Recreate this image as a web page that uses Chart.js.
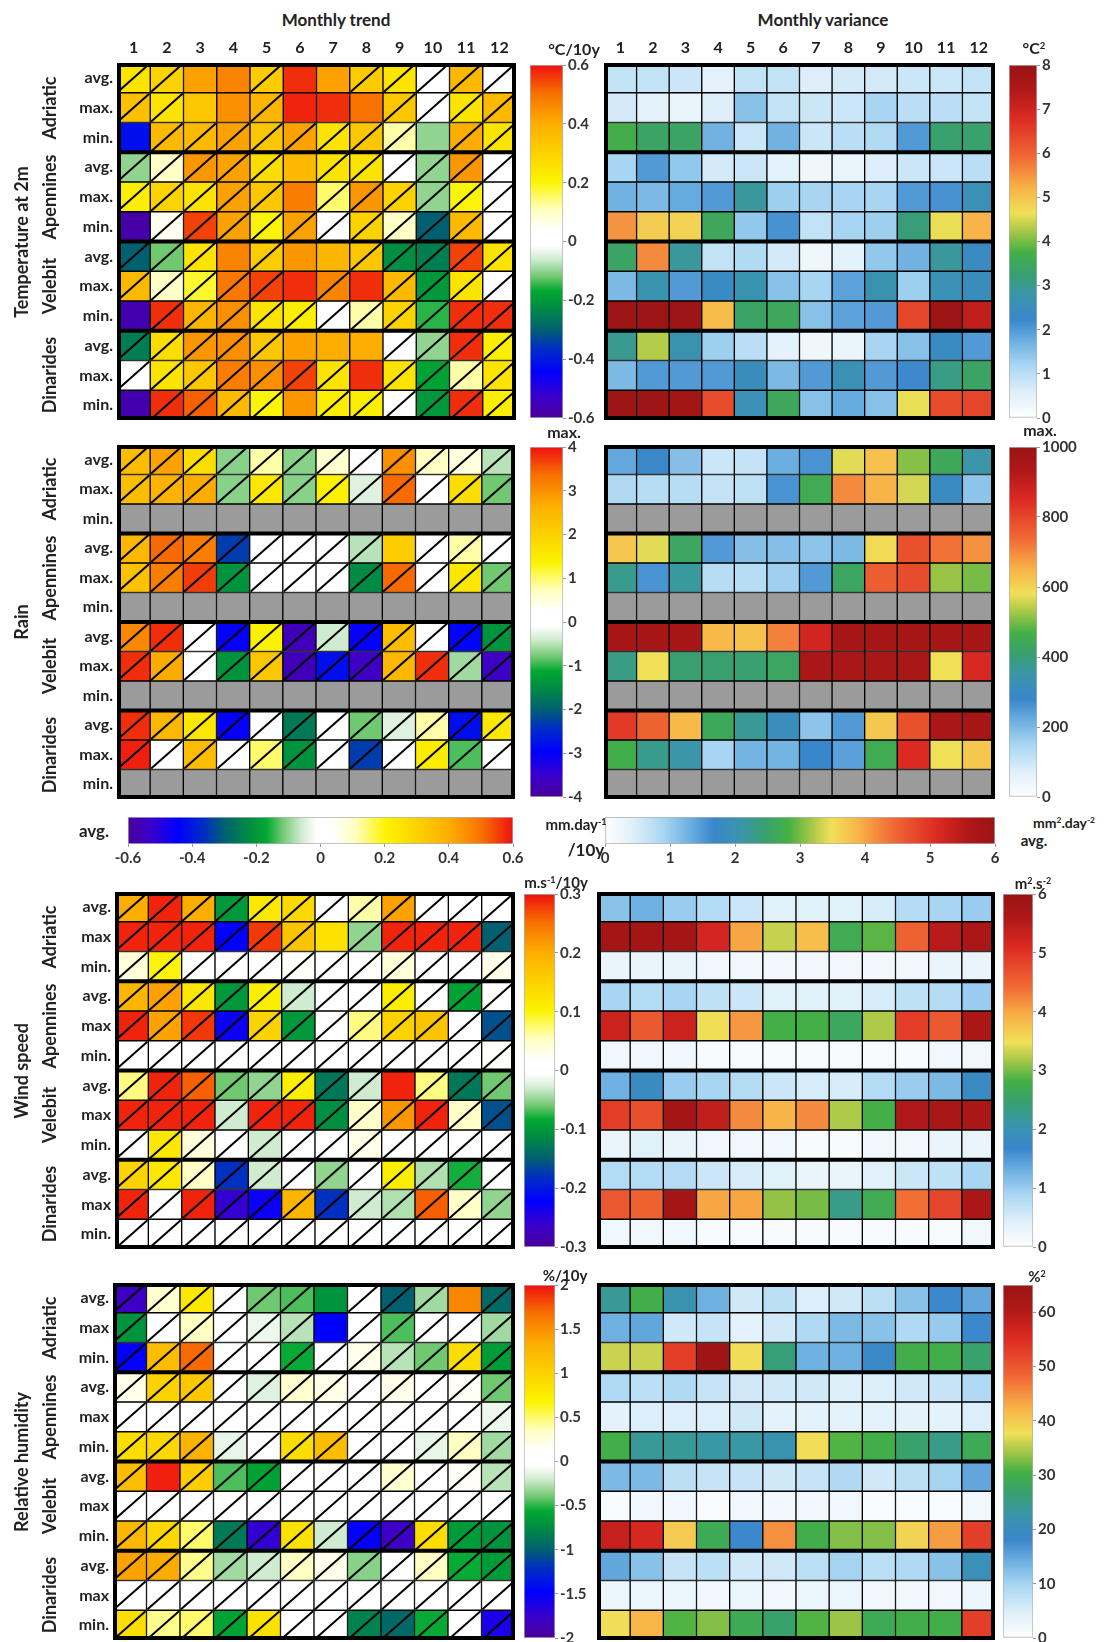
<!DOCTYPE html>
<html><head><meta charset="utf-8">
<script src="https://cdn.jsdelivr.net/npm/chart.js@4.4.1/dist/chart.umd.min.js"></script>
<style>
body{margin:0;width:1104px;height:1642px;overflow:hidden;background:#fff;font-family:Lato,"Open Sans",sans-serif;position:relative;}
.box{position:absolute;}
.t{position:absolute;font-weight:700;color:#222;white-space:nowrap;line-height:1;transform:translate(-50%,-50%);}
.t sup{font-size:60%;vertical-align:0.55em;}
.rot{transform:translate(-50%,-50%) rotate(-90deg);}
</style></head><body>
<script>
// ---------- DATA ----------
const months = ['1','2','3','4','5','6','7','8','9','10','11','12'];
const regions = ['Adriatic','Apennines','Velebit','Dinarides'];
const rowLabelsA = ['avg.','max.','min.','avg.','max.','min.','avg.','max.','min.','avg.','max.','min.'];
const rowLabelsB = ['avg.','max','min.','avg.','max','min.','avg.','max','min.','avg.','max','min.'];
const variables = ['Temperature at 2m','Rain','Wind speed','Relative humidity'];
const N = null;
const nullRow = [N,N,N,N,N,N,N,N,N,N,N,N];

// Temperature at 2m — trend (°C/10y)
const tempTrend = [
 [0.25,0.30,0.42,0.47,0.32,0.57,0.42,0.32,0.25,0.00,0.37,0.02],
 [0.35,0.25,0.33,0.45,0.38,0.58,0.57,0.50,0.33,0.00,0.25,0.37],
 [-0.42,0.37,0.37,0.42,0.33,0.42,0.25,0.33,0.12,-0.10,0.40,0.25],
 [-0.10,0.10,0.44,0.42,0.27,0.37,0.25,0.25,0.00,-0.10,0.44,0.00],
 [0.22,0.30,0.25,0.42,0.33,0.48,0.15,0.44,0.30,-0.10,0.20,0.00],
 [-0.58,0.05,0.55,0.42,0.20,0.42,0.02,0.30,0.10,-0.30,0.37,0.00],
 [-0.30,-0.12,0.25,0.47,0.32,0.44,0.38,0.33,-0.22,-0.25,0.55,0.25],
 [0.37,0.10,0.18,0.49,0.55,0.57,0.47,0.57,0.37,-0.20,0.25,0.00],
 [-0.57,0.57,0.38,0.45,0.25,0.22,0.00,0.12,0.30,-0.15,0.57,0.57],
 [-0.25,0.27,0.44,0.45,0.33,0.42,0.40,0.40,0.00,-0.10,0.57,0.22],
 [0.00,0.25,0.33,0.48,0.45,0.55,0.25,0.57,0.25,-0.18,0.12,0.25],
 [-0.57,0.57,0.52,0.37,0.20,0.44,0.22,0.22,0.00,-0.20,0.57,0.22]
];
// 1 = hatched (diagonal) cell
const tempTrendDiag = ['110010011111','110010001111','011111111011','111110111111','111110111111','011111111111',
                       '111010011111','111110101111','011111111111','111110001111','111111101111','011110111111'];
// Temperature variance (°C²)
const tempVar = [
 [0.9,0.9,0.8,0.5,0.9,0.9,0.6,0.7,0.7,0.8,0.8,0.9],
 [0.7,0.5,0.4,0.6,1.5,0.9,0.8,0.8,1.2,1.0,1.0,0.9],
 [3.7,3.4,3.4,1.7,0.8,1.7,0.8,1.0,1.1,2.0,3.3,3.3],
 [1.2,2.0,1.4,0.7,0.8,0.5,0.3,0.4,0.6,0.8,0.8,1.0],
 [1.7,1.6,1.8,2.0,2.9,1.3,1.2,1.2,1.2,2.0,2.1,2.6],
 [5.5,4.9,4.8,3.5,1.4,2.1,0.9,1.2,1.3,3.2,4.6,5.2],
 [3.4,5.6,2.9,0.9,1.1,0.7,0.3,0.5,1.4,1.7,2.9,2.4],
 [1.6,2.7,2.0,2.4,2.7,1.5,1.2,1.9,2.7,1.3,2.6,2.5],
 [7.9,7.9,7.9,5.1,3.4,3.5,1.5,1.9,2.0,6.4,7.9,7.2],
 [3.0,4.3,2.7,1.3,1.0,0.5,0.3,0.4,1.2,1.5,2.4,2.0],
 [1.6,2.0,2.0,2.0,2.5,1.6,2.0,2.6,2.0,2.2,3.1,3.4],
 [7.9,7.9,7.8,6.3,2.6,3.5,1.5,1.8,1.5,4.6,6.3,6.4]
];
// Rain — trend (max. colour scale, mm.day-1/10y)
const rainTrend = [
 [2.4,2.8,1.8,-0.7,0.8,-0.7,0.6,0.0,3.0,0.7,0.5,-0.5],
 [2.4,2.6,2.7,-0.7,1.6,-0.7,1.4,-0.3,3.4,0.0,1.8,-0.8],
 nullRow,
 [2.5,3.4,3.2,-2.3,0.0,0.0,0.0,-0.5,2.1,0.0,0.8,0.0],
 [2.3,3.2,3.7,-1.4,0.0,0.0,0.0,-1.5,3.4,0.0,1.6,-0.8],
 nullRow,
 [3.1,3.8,0.0,-3.0,1.4,-3.7,-0.4,-3.0,2.4,0.0,-2.9,-1.4],
 [3.8,2.7,0.0,-1.4,2.2,-3.7,-2.8,-3.6,2.5,3.8,-0.6,-3.6],
 nullRow,
 [3.8,2.5,1.6,-3.0,0.0,-1.7,0.0,-0.8,-0.3,0.8,-2.8,1.6],
 [3.9,0.0,2.4,0.0,1.0,-1.4,0.0,-2.3,0.0,1.5,-0.9,0.0],
 nullRow
];
const rainTrendDiag = ['111111111111','111111111111','000000000000','111111110111','111111111111','000000000000',
                       '111111111111','111111111111','000000000000','111111111111','111111111111','000000000000'];
// Rain variance (max. colour scale)
const rainVar = [
 [230,290,190,100,110,220,260,570,630,510,440,350],
 [140,130,130,110,120,260,450,700,650,560,300,180],
 nullRow,
 [620,570,430,250,190,190,180,200,590,780,730,690],
 [380,260,360,130,130,160,250,430,760,790,520,500],
 nullRow,
 [960,960,960,640,630,710,870,960,960,960,960,960],
 [390,580,410,410,410,430,950,950,950,950,580,860],
 nullRow,
 [820,750,640,440,370,310,180,250,620,780,950,960],
 [460,380,350,150,210,210,280,240,450,850,580,620],
 nullRow
];
// Wind speed — trend (m.s-1/10y)
const windTrend = [
 [0.20,0.29,0.20,-0.10,0.12,0.14,0.00,0.06,0.21,0.00,0.00,0.00],
 [0.29,0.29,0.29,-0.22,0.28,0.17,0.13,-0.05,0.29,0.29,0.29,-0.15],
 [0.04,0.10,0.00,0.00,0.00,0.02,0.00,0.00,0.04,0.00,0.00,0.03],
 [0.19,0.21,0.12,-0.10,0.11,-0.03,0.00,0.00,0.11,0.00,-0.09,0.00],
 [0.29,0.21,0.28,-0.23,0.15,-0.10,0.00,0.07,0.15,0.17,0.00,-0.16],
 [0.00,0.00,0.00,0.00,0.00,0.00,0.00,0.00,0.00,0.00,0.00,0.02],
 [0.07,0.29,0.26,-0.06,-0.05,0.11,-0.13,-0.03,0.29,0.07,-0.13,-0.06],
 [0.29,0.29,0.29,-0.03,0.29,0.29,-0.11,0.05,0.22,0.29,0.05,-0.16],
 [0.00,0.12,0.04,0.00,-0.03,0.00,0.00,0.03,0.00,0.00,0.00,0.00],
 [0.15,0.12,0.05,-0.18,-0.03,0.00,-0.05,0.00,0.11,-0.04,-0.08,0.00],
 [0.29,0.00,0.29,-0.26,-0.23,0.19,-0.18,-0.03,-0.04,0.26,0.05,-0.05],
 [0.00,0.00,0.00,0.00,0.00,0.00,0.00,0.00,0.00,0.00,0.00,0.00]
];
const windTrendDiag = ['111111111111','111111011111','111111111111','111111111111','111111111111','111111111111',
                       '111111110111','111111111111','111111111111','111111111111','111111111111','111111111111'];
// Wind speed variance (m².s-2)
const windVar = [
 [1.1,1.3,1.0,0.8,0.6,0.4,0.4,0.4,0.5,0.8,0.9,1.0],
 [5.8,5.8,5.8,5.2,4.0,3.3,3.8,2.7,2.9,4.5,5.5,5.7],
 [0.3,0.3,0.3,0.2,0.2,0.2,0.2,0.2,0.2,0.2,0.3,0.3],
 [0.9,0.8,0.9,0.7,0.6,0.4,0.4,0.4,0.5,0.7,0.8,1.0],
 [5.3,4.6,5.3,3.5,4.1,2.8,2.8,2.6,3.2,4.9,4.6,5.7],
 [0.2,0.2,0.2,0.1,0.1,0.1,0.1,0.1,0.1,0.1,0.2,0.2],
 [1.3,1.8,1.0,0.9,0.8,0.6,0.5,0.5,0.8,1.0,1.2,1.8],
 [4.9,4.7,5.8,5.4,4.2,3.9,4.2,3.2,2.8,5.6,5.7,5.7],
 [0.3,0.4,0.3,0.2,0.2,0.2,0.1,0.1,0.2,0.2,0.3,0.3],
 [0.8,0.8,0.8,0.6,0.5,0.4,0.3,0.3,0.4,0.6,0.7,0.9],
 [4.6,4.5,5.8,4.0,4.0,3.1,3.0,2.3,2.7,4.4,4.8,5.7],
 [0.2,0.2,0.2,0.1,0.1,0.1,0.1,0.1,0.1,0.1,0.1,0.2]
];
// Relative humidity — trend (%/10y)
const rhTrend = [
 [-1.8,0.3,0.8,0.0,-0.4,-0.45,-0.7,0.05,-1.0,-0.3,1.55,-0.95],
 [-0.7,0.0,0.35,0.0,-0.1,-0.25,-1.48,0.0,-0.45,0.0,0.0,-0.3],
 [-1.5,1.2,1.7,0.0,0.0,-0.55,0.0,0.2,-0.25,-0.4,0.9,-0.65],
 [0.2,1.0,1.1,0.0,-0.15,0.3,0.2,0.0,0.2,0.0,0.15,-0.4],
 [0.0,0.0,0.1,0.0,0.0,0.0,0.0,0.0,0.0,0.0,0.0,-0.1],
 [0.9,0.95,1.3,-0.12,0.0,0.9,1.2,0.0,0.0,-0.12,0.35,-0.3],
 [1.2,1.95,1.05,-0.45,-0.6,0.0,0.0,0.0,0.3,0.0,0.15,-0.25],
 [0.0,0.0,0.0,0.0,0.0,0.0,0.0,0.0,0.0,0.0,0.0,0.0],
 [1.25,0.95,0.5,-0.85,-1.72,0.85,-0.2,-1.5,-1.8,0.9,-0.65,-0.7],
 [1.4,1.35,0.45,-0.3,-0.2,0.35,0.2,-0.35,0.0,0.35,-0.55,-0.65],
 [0.0,0.0,0.0,0.0,0.0,0.0,0.0,0.0,0.0,0.0,0.0,0.0],
 [0.9,0.45,0.5,-0.6,0.85,0.0,0.0,-0.8,-0.95,-0.55,0.0,-1.6]
];
const rhTrendDiag = ['111111011101','111111011111','111111111111','111111111111','111111111111','111111111111',
                     '101111111111','111111111111','111111111111','111111111111','111111111111','111111111111'];
// Relative humidity variance (%²)
const rhVar = [
 [24,30,22,14,6,8,5,6,8,12,18,15],
 [14,15,6,7,4,6,9,13,12,9,11,18],
 [36,36,53,64,38,26,14,14,19,30,30,27],
 [9,8,9,7,6,6,6,5,5,6,7,9],
 [4,5,5,5,6,4,4,4,4,4,4,5],
 [30,24,24,23,23,22,38,31,30,27,25,29],
 [13,13,8,7,7,6,7,9,6,8,10,15],
 [1,2,2,1,2,2,2,2,1,1,1,2],
 [58,56,40,29,18,45,30,33,33,39,44,53],
 [15,12,7,8,6,6,8,10,8,9,12,21],
 [3,3,3,2,3,2,3,3,2,2,2,3],
 [38,42,31,33,29,27,31,34,29,30,30,53]
];
// colour-bar tick labels
const tempTrendTicks = [-0.6,-0.4,-0.2,0,0.2,0.4,0.6];
const tempVarTicks = [0,1,2,3,4,5,6,7,8];
const rainTrendTicks = [-4,-3,-2,-1,0,1,2,3,4];
const rainVarTicks = [0,200,400,600,800,1000];
const rainAvgTrendTicks = [-0.6,-0.4,-0.2,0,0.2,0.4,0.6];
const rainAvgVarTicks = [0,1,2,3,4,5,6];
const windTrendTicks = [-0.3,-0.2,-0.1,0,0.1,0.2,0.3];
const windVarTicks = [0,1,2,3,4,5,6];
const rhTrendTicks = [-2,-1.5,-1,-0.5,0,0.5,1,1.5,2];
const rhVarTicks = [0,10,20,30,40,50,60];

// ---------- COLOUR MAPS ----------
const TREND_STOPS = [[0,'#4a0099'],[0.06,'#3a00cc'],[0.13,'#0000ff'],[0.20,'#0030c0'],[0.25,'#006070'],
  [0.32,'#009040'],[0.36,'#00a830'],[0.40,'#70c870'],[0.45,'#d0ecd0'],[0.49,'#ffffff'],[0.53,'#ffffff'],
  [0.59,'#ffffc0'],[0.67,'#fcf400'],[0.83,'#fcb000'],[0.92,'#f87000'],[1,'#ee1010']];
const VAR_STOPS = [[0,'#ffffff'],[0.07,'#e0f0fa'],[0.15,'#a8d6f2'],[0.22,'#6aaee0'],[0.28,'#3a86cc'],
  [0.35,'#3a96a8'],[0.41,'#38a070'],[0.47,'#44b044'],[0.53,'#a8c848'],[0.58,'#f0e058'],[0.65,'#f8b448'],
  [0.74,'#f06834'],[0.85,'#dc2a22'],[0.93,'#b01818'],[1,'#9a1414']];

function hex(h){return [parseInt(h.slice(1,3),16),parseInt(h.slice(3,5),16),parseInt(h.slice(5,7),16)];}
function cmap(stops,t){
  t=Math.max(0,Math.min(1,t));
  for(let i=1;i<stops.length;i++){
    if(t<=stops[i][0]){
      const [t0,c0]=stops[i-1],[t1,c1]=stops[i];
      const f=(t-t0)/(t1-t0||1),a=hex(c0),b=hex(c1);
      return `rgb(${a.map((v,k)=>Math.round(v+(b[k]-v)*f)).join(',')})`;
    }
  }
  return stops[stops.length-1][1];
}
function grad(chart,stops,vertical){
  const a=chart.chartArea; if(!a) return 'transparent';
  const g=vertical?chart.ctx.createLinearGradient(0,a.bottom,0,a.top):chart.ctx.createLinearGradient(a.left,0,a.right,0);
  stops.forEach(([t,c])=>g.addColorStop(t,c));
  return g;
}
const fmt=v=>String(+(+v).toFixed(2));
const noPad=s=>{s.paddingTop=0;s.paddingBottom=0;s.paddingLeft=0;s.paddingRight=0;};

// ---------- HELPERS ----------
Chart.defaults.font.family='Lato,"Open Sans",sans-serif';
Chart.defaults.font.weight='bold';
Chart.defaults.color='#222';
function addBox(l,t,w,h){
  const d=document.createElement('div');d.className='box';
  d.style.cssText=`left:${l}px;top:${t}px;width:${w}px;height:${h}px`;
  const c=document.createElement('canvas');d.appendChild(c);document.body.appendChild(d);return c;
}
function addText(html,x,y,size,cls){
  const d=document.createElement('div');d.className='t'+(cls?' '+cls:'');
  d.style.left=x+'px';d.style.top=y+'px';d.style.fontSize=size+'px';d.innerHTML=html;
  document.body.appendChild(d);
}
function cellPlugin(mask){return{
  id:'cells',
  afterDatasetsDraw(chart){
    const {ctx,chartArea:a,scales:{y}}=chart;
    ctx.save();
    if(mask){
      ctx.strokeStyle='#000';ctx.lineWidth=2;
      chart.data.datasets.forEach((ds,r)=>{
        chart.getDatasetMeta(r).data.forEach((el,c)=>{
          if(mask[r][c]!=='1')return;
          const p=el.getProps(['x','y','base','width'],true);
          const l=p.x-p.width/2,rr=p.x+p.width/2,tp=Math.min(p.y,p.base),bt=Math.max(p.y,p.base);
          ctx.beginPath();ctx.moveTo(l+1,bt-1);ctx.lineTo(rr-1,tp+1);ctx.stroke();
        });
      });
    }
    ctx.strokeStyle='#000';ctx.lineWidth=4;
    [3,6,9].forEach(v=>{const py=y.getPixelForValue(v);ctx.beginPath();ctx.moveTo(a.left,py);ctx.lineTo(a.right,py);ctx.stroke();});
    ctx.strokeRect(a.left+2,a.top+2,a.right-a.left-4,a.bottom-a.top-4);
    ctx.restore();
  }
};}
function heatmap(p){
  const labelW=p.rowLabels?64:0, topH=p.months?30:0;
  const canvas=addBox(p.x-labelW,p.y-topH,p.w+labelW,p.h+topH);
  const datasets=p.values.map((row,r)=>({
    data:row.map((v,c)=>({x:months[c],y:[r,r+1],v})),
    backgroundColor:ctx=>(ctx.raw&&ctx.raw.v!==null)?cmap(p.stops,(ctx.raw.v-p.min)/(p.max-p.min)):'#9b9b9b',
    borderColor:'#000',borderWidth:1,borderSkipped:false,grouped:false,categoryPercentage:1,barPercentage:1
  }));
  new Chart(canvas,{type:'bar',data:{labels:months,datasets},
    options:{responsive:true,maintainAspectRatio:false,devicePixelRatio:1,animation:false,
      layout:{padding:0,autoPadding:false},plugins:{legend:{display:false},tooltip:{enabled:false}},
      scales:{
        x:{type:'category',position:'top',display:!!p.months,grid:{display:false,drawTicks:false},border:{display:false},
           ticks:{font:{size:16,weight:'bold'},color:'#222',padding:6,maxRotation:0,autoSkip:false},
           afterFit:s=>{s.height=topH;noPad(s);}},
        y:{type:'linear',min:0,max:12,reverse:true,display:!!p.rowLabels,grid:{display:false,drawTicks:false},border:{display:false},
           afterBuildTicks:s=>{s.ticks=months.map((m,i)=>({value:i+0.5}));},
           ticks:{callback:(v,i)=>p.rowLabels?p.rowLabels[i]:'',font:{size:16,weight:'bold'},color:'#222',padding:4},
           afterFit:s=>{s.width=labelW;noPad(s);}}
      }},
    plugins:[cellPlugin(p.mask)]
  });
}
function vbar(p){
  const pad=10,tickW=p.tickW||40;
  const canvas=addBox(p.x,p.y-pad,p.w+tickW,p.h+2*pad);
  new Chart(canvas,{type:'bar',data:{labels:['c'],datasets:[{data:[[p.ticks[0],p.max]],
      backgroundColor:ctx=>grad(ctx.chart,p.stops,true),borderColor:'#b0b0b0',borderWidth:1,borderSkipped:false,
      categoryPercentage:1,barPercentage:1}]},
    options:{responsive:true,maintainAspectRatio:false,devicePixelRatio:1,animation:false,
      layout:{padding:{top:pad,bottom:pad,left:0,right:0},autoPadding:false},plugins:{legend:{display:false},tooltip:{enabled:false}},
      scales:{x:{display:false},
        y:{min:p.ticks[0],max:p.max,position:'right',afterBuildTicks:s=>{s.ticks=p.ticks.map(v=>({value:v}));},
           ticks:{callback:v=>fmt(v),font:{size:15,weight:'bold'},color:'#333',padding:2},
           grid:{display:true,drawOnChartArea:false,drawTicks:true,tickLength:3,color:'#999'},border:{display:false},
           afterFit:s=>{s.width=tickW;noPad(s);}}}}
  });
}
function hbar(p){
  const padX=22,tickH=28;
  const canvas=addBox(p.x-padX,p.y,p.w+2*padX,p.h+tickH);
  new Chart(canvas,{type:'bar',data:{labels:['c'],datasets:[{data:[[p.ticks[0],p.ticks[p.ticks.length-1]]],
      backgroundColor:ctx=>grad(ctx.chart,p.stops,false),borderColor:'#b0b0b0',borderWidth:1,borderSkipped:false,
      categoryPercentage:1,barPercentage:1}]},
    options:{indexAxis:'y',responsive:true,maintainAspectRatio:false,devicePixelRatio:1,animation:false,
      layout:{padding:{left:padX,right:padX,top:0,bottom:0},autoPadding:false},plugins:{legend:{display:false},tooltip:{enabled:false}},
      scales:{y:{display:false},
        x:{min:p.ticks[0],max:p.ticks[p.ticks.length-1],position:'bottom',afterBuildTicks:s=>{s.ticks=p.ticks.map(v=>({value:v}));},
           ticks:{callback:v=>fmt(v),font:{size:15,weight:'bold'},color:'#333',padding:2},
           grid:{display:true,drawOnChartArea:false,drawTicks:true,tickLength:3,color:'#999'},border:{display:false},
           afterFit:s=>{s.height=tickH;noPad(s);}}}}
  });
}

// ---------- LAYOUT ----------
const panels=[
 {top:63,h:357,L:{x:117,w:399},R:{x:604,w:391},cbL:{x:530,w:33},cbR:{x:1009,w:28},rows:rowLabelsA,
  trend:tempTrend,diag:tempTrendDiag,tTicks:tempTrendTicks,tMax:0.6,vari:tempVar,vTicks:tempVarTicks,vMax:8,months:true},
 {top:445,h:354,L:{x:117,w:398},R:{x:604,w:391},cbL:{x:530,w:33},cbR:{x:1009,w:28},rows:rowLabelsA,
  trend:rainTrend,diag:rainTrendDiag,tTicks:rainTrendTicks,tMax:4,vari:rainVar,vTicks:rainVarTicks,vMax:1000},
 {top:892,h:357,L:{x:115,w:400},R:{x:597,w:398},cbL:{x:524,w:31},cbR:{x:1003,w:30},rows:rowLabelsB,
  trend:windTrend,diag:windTrendDiag,tTicks:windTrendTicks,tMax:0.3,vari:windVar,vTicks:windVarTicks,vMax:6},
 {top:1283,h:357,L:{x:113,w:402},R:{x:597,w:398},cbL:{x:524,w:31},cbR:{x:1003,w:30},rows:rowLabelsB,
  trend:rhTrend,diag:rhTrendDiag,tTicks:rhTrendTicks,tMax:2,vari:rhVar,vTicks:rhVarTicks,vMax:65}
];
panels.forEach((P,k)=>{
  heatmap({x:P.L.x,y:P.top,w:P.L.w,h:P.h,values:P.trend,mask:P.diag,stops:TREND_STOPS,min:-P.tMax,max:P.tMax,rowLabels:P.rows,months:P.months});
  heatmap({x:P.R.x,y:P.top,w:P.R.w,h:P.h,values:P.vari,mask:null,stops:VAR_STOPS,min:0,max:P.vMax,rowLabels:null,months:P.months});
  vbar({x:P.cbL.x,y:P.top+2,w:P.cbL.w,h:P.h-4,ticks:P.tTicks,max:P.tMax,stops:TREND_STOPS,tickW:40});
  vbar({x:P.cbR.x,y:P.top+2,w:P.cbR.w,h:P.h-4,ticks:P.vTicks,max:P.vMax,stops:VAR_STOPS,tickW:60});
  const cell=P.h/12;
  regions.forEach((rg,g)=>addText(rg,49,P.top+(g*3+1.5)*cell,18,'rot'));
  addText(variables[k],21,P.top+P.h/2,18,'rot');
});
hbar({x:128,y:817,w:385,h:27,ticks:rainAvgTrendTicks,stops:TREND_STOPS});
hbar({x:605,y:817,w:390,h:27,ticks:rainAvgVarTicks,stops:VAR_STOPS});

addText('Monthly trend',336,19,17);
addText('Monthly variance',823,19,17);
addText('°C/10y',574,49,16);
addText('°C<sup>2</sup>',1034,48,16);
addText('max.',564,432,16);
addText('max.',1040,430,16);
addText('avg.',94,830,17);
addText('mm.day<sup>-1</sup>',576,824,15);
addText('/10y',586,849,17);
addText('mm<sup>2</sup>.day<sup>-2</sup>',1064,823,14);
addText('avg.',1034,840,15);
addText('m.s<sup>-1</sup>/10y',556,882,15);
addText('m<sup>2</sup>.s<sup>-2</sup>',1033,883,15);
addText('%/10y',565,1275,15);
addText('%<sup>2</sup>',1037,1276,15);
</script>
</body></html>
